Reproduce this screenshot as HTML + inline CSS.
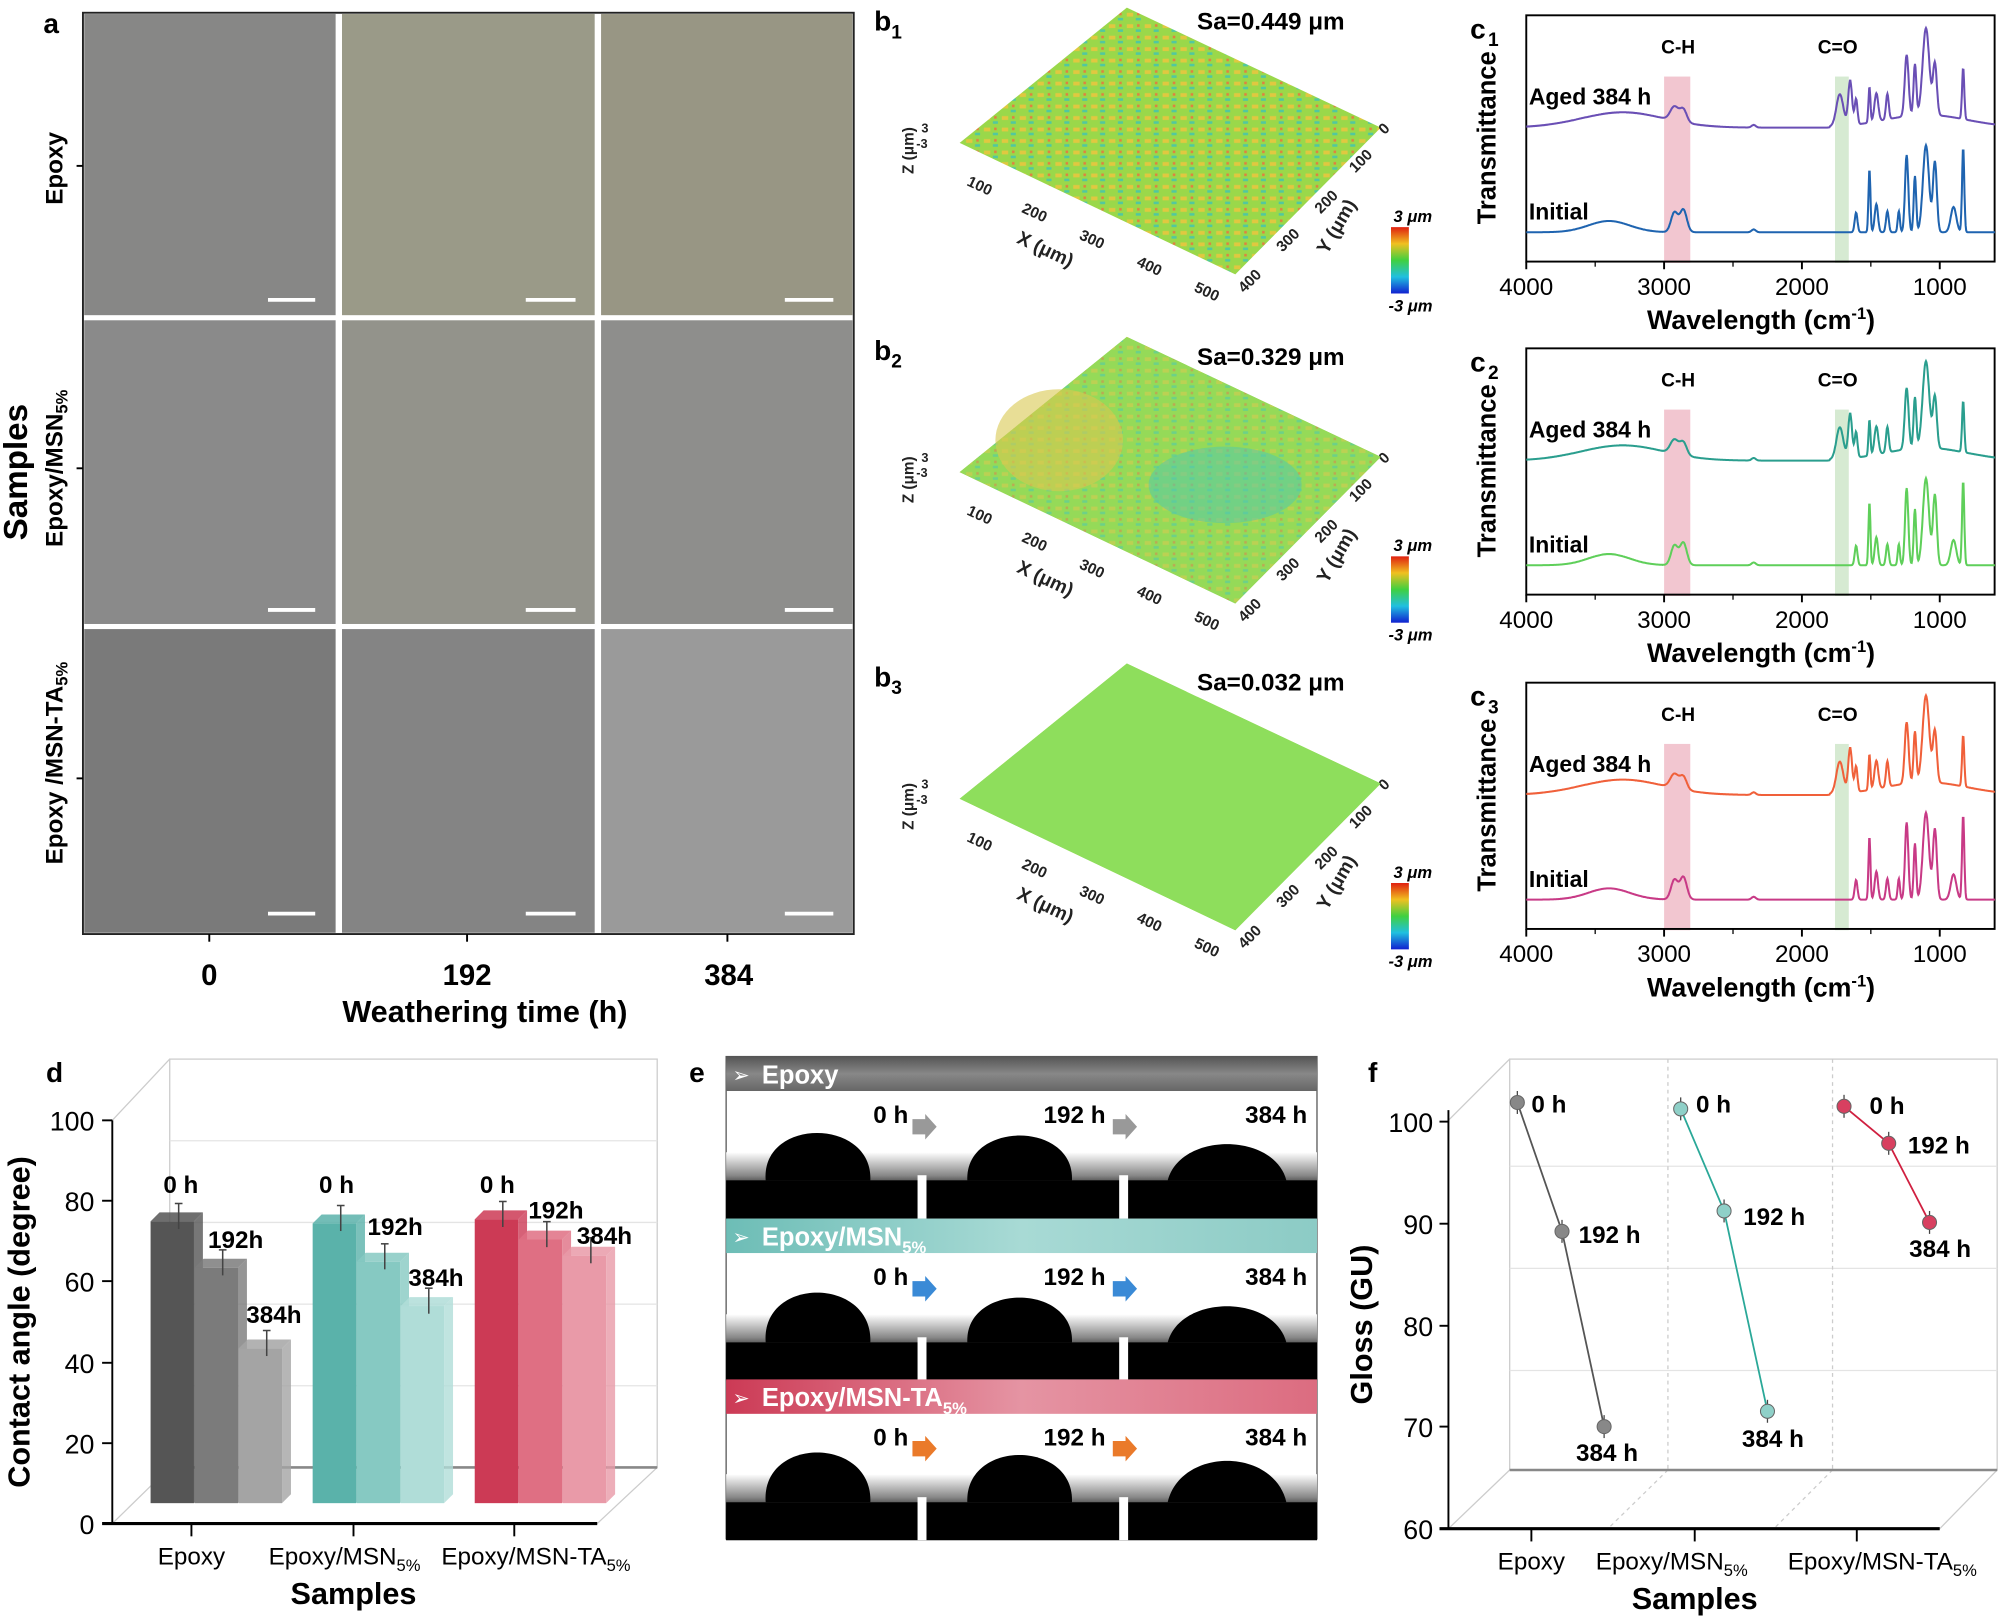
<!DOCTYPE html>
<html><head><meta charset="utf-8">
<style>
html,body{margin:0;padding:0;background:#fff;}
svg{display:block;}
text{font-family:"Liberation Sans",Arial,sans-serif;}
.b{font-weight:bold;}
</style></head>
<body>
<svg id="s" width="2001" height="1618" viewBox="0 0 1568 1268" preserveAspectRatio="none" xmlns="http://www.w3.org/2000/svg">
<defs>
<linearGradient id="gE" x1="0" y1="0" x2="0" y2="1"><stop offset="0" stop-color="#555"/><stop offset=".5" stop-color="#888"/><stop offset="1" stop-color="#666"/></linearGradient>
<linearGradient id="gM" x1="0" y1="0" x2="1" y2="0"><stop offset="0" stop-color="#6dbdb6"/><stop offset=".5" stop-color="#a8dad5"/><stop offset="1" stop-color="#8ccbc5"/></linearGradient>
<linearGradient id="gT" x1="0" y1="0" x2="1" y2="0"><stop offset="0" stop-color="#cc3a55"/><stop offset=".5" stop-color="#e594a3"/><stop offset="1" stop-color="#dc6c80"/></linearGradient>
<linearGradient id="gB" x1="0" y1="0" x2="0" y2="1"><stop offset="0" stop-color="#fff"/><stop offset=".35" stop-color="#888"/><stop offset=".6" stop-color="#000"/><stop offset="1" stop-color="#000"/></linearGradient>
<linearGradient id="cb" x1="0" y1="0" x2="0" y2="1"><stop offset="0" stop-color="#e02010"/><stop offset=".25" stop-color="#f0c020"/><stop offset=".5" stop-color="#40d040"/><stop offset=".75" stop-color="#20c0e0"/><stop offset="1" stop-color="#1020d0"/></linearGradient>
<pattern id="tex" width="14" height="9" patternUnits="userSpaceOnUse"><rect width="14" height="9" fill="#9ad84a"/><rect x="1" y="1" width="5" height="3" fill="#e0c840"/><rect x="8" y="5" width="4" height="2" fill="#50c8a0"/><rect x="9" y="1" width="2" height="2" fill="#e08040"/></pattern>
</defs>

<!-- Panel a -->
<text x="34" y="26" class="b" font-size="22">a</text>
<rect x="65" y="10" width="604" height="722" fill="#fff"/>
<rect x="66" y="11" width="197" height="236" fill="#878786"/>
<rect x="268" y="11" width="198" height="236" fill="#9a9a88"/>
<rect x="471" y="11" width="197" height="236" fill="#989684"/>
<rect x="66" y="251" width="197" height="238" fill="#8a8a8a"/>
<rect x="268" y="251" width="198" height="238" fill="#93938b"/>
<rect x="471" y="251" width="197" height="238" fill="#8e8e8c"/>
<rect x="66" y="493" width="197" height="238" fill="#7a7a7a"/>
<rect x="268" y="493" width="198" height="238" fill="#848484"/>
<rect x="471" y="493" width="197" height="238" fill="#9a9a9a"/>
<rect x="65" y="10" width="604" height="722" fill="none" stroke="#222" stroke-width="1.5"/>
<g stroke="#fff" stroke-width="3">
<line x1="210" y1="235" x2="247" y2="235"/><line x1="412" y1="235" x2="451" y2="235"/><line x1="615" y1="235" x2="653" y2="235"/>
<line x1="210" y1="478" x2="247" y2="478"/><line x1="412" y1="478" x2="451" y2="478"/><line x1="615" y1="478" x2="653" y2="478"/>
<line x1="210" y1="716" x2="247" y2="716"/><line x1="412" y1="716" x2="451" y2="716"/><line x1="615" y1="716" x2="653" y2="716"/>
</g>
<g stroke="#000" stroke-width="1.5"><line x1="60" y1="130" x2="65" y2="130"/><line x1="60" y1="367" x2="65" y2="367"/><line x1="60" y1="610" x2="65" y2="610"/>
<line x1="164" y1="732" x2="164" y2="738"/><line x1="366" y1="732" x2="366" y2="738"/><line x1="570" y1="732" x2="570" y2="738"/></g>
<text transform="translate(49,132) rotate(-90)" text-anchor="middle" class="b" font-size="19">Epoxy</text>
<text transform="translate(49,367) rotate(-90)" text-anchor="middle" class="b" font-size="19">Epoxy/MSN<tspan font-size="13" dy="4">5%</tspan></text>
<text transform="translate(49,598) rotate(-90)" text-anchor="middle" class="b" font-size="19">Epoxy /MSN-TA<tspan font-size="13" dy="4">5%</tspan></text>
<text transform="translate(21,370) rotate(-90)" text-anchor="middle" class="b" font-size="26">Samples</text>
<text x="164" y="772" text-anchor="middle" class="b" font-size="23">0</text>
<text x="366" y="772" text-anchor="middle" class="b" font-size="23">192</text>
<text x="571" y="772" text-anchor="middle" class="b" font-size="23">384</text>
<text x="380" y="801" text-anchor="middle" class="b" font-size="24">Weathering time (h)</text>

<!-- Panel b -->
<g id="b1">
<text x="685" y="24" class="b" font-size="22">b<tspan font-size="15" dy="6">1</tspan></text>
<text x="938" y="23" class="b" font-size="19">Sa=0.449 μm</text>
<polygon points="883,6 1082,100 968,215 752,112" fill="url(#tex)"/>
<g font-size="12" class="b" fill="#222">
<text transform="translate(716,118) rotate(-90)" text-anchor="middle">Z (μm)</text>
<text x="722" y="104" font-size="10">3</text><text x="718" y="116" font-size="10">-3</text>
<text x="757" y="145" transform="rotate(25 757 145)">100</text>
<text x="800" y="166" transform="rotate(25 800 166)">200</text>
<text x="845" y="187" transform="rotate(25 845 187)">300</text>
<text x="890" y="208" transform="rotate(25 890 208)">400</text>
<text x="935" y="228" transform="rotate(25 935 228)">500</text>
<text x="796" y="190" font-size="15" transform="rotate(25 796 190)">X (μm)</text>
<text x="1085" y="106" transform="rotate(-45 1085 106)">0</text>
<text x="1062" y="136" transform="rotate(-45 1062 136)">100</text>
<text x="1035" y="168" transform="rotate(-45 1035 168)">200</text>
<text x="1005" y="198" transform="rotate(-45 1005 198)">300</text>
<text x="975" y="230" transform="rotate(-45 975 230)">400</text>
<text x="1040" y="200" font-size="15" transform="rotate(-60 1040 200)">Y (μm)</text>
</g>
<rect x="1090" y="178" width="14" height="52" fill="url(#cb)"/>
<text x="1092" y="174" class="b" font-size="13" font-style="italic">3 μm</text>
<text x="1088" y="244" class="b" font-size="13" font-style="italic">-3 μm</text>
</g>
<use href="#b1" transform="translate(0,258)"/>
<use href="#b1" transform="translate(0,514)"/>
<rect x="930" y="262" width="150" height="28" fill="#fff"/>
<rect x="684" y="262" width="40" height="32" fill="#fff"/>
<text x="685" y="282" class="b" font-size="22">b<tspan font-size="15" dy="6">2</tspan></text>
<text x="938" y="286" class="b" font-size="19">Sa=0.329 μm</text>
<polygon points="883,264 1082,358 968,473 752,370" fill="#8edc6a"/>
<polygon points="883,264 1082,358 968,473 752,370" fill="url(#tex)" opacity="0.55"/>
<ellipse cx="830" cy="345" rx="50" ry="40" fill="#d8c850" opacity=".6"/>
<ellipse cx="960" cy="380" rx="60" ry="30" fill="#50c8b0" opacity=".5"/>
<rect x="930" y="518" width="150" height="28" fill="#fff"/>
<rect x="684" y="518" width="40" height="32" fill="#fff"/>
<text x="685" y="538" class="b" font-size="22">b<tspan font-size="15" dy="6">3</tspan></text>
<text x="938" y="541" class="b" font-size="19">Sa=0.032 μm</text>
<polygon points="883,520 1082,614 968,729 752,626" fill="#8ede5c"/>

<!-- Panel c (drawn by script) -->
<g id="cpanels"></g>

<!-- Panel d -->
<text x="36" y="848" class="b" font-size="22">d</text>
<rect x="133" y="830" width="382" height="320" fill="#fff" stroke="#ccc"/>
<g stroke="#e4e4e4"><line x1="133" y1="1086" x2="515" y2="1086"/><line x1="133" y1="1022" x2="515" y2="1022"/><line x1="133" y1="958" x2="515" y2="958"/><line x1="133" y1="894" x2="515" y2="894"/></g>
<line x1="88" y1="878" x2="133" y2="830" stroke="#ccc"/>
<line x1="468" y1="1194" x2="515" y2="1150" stroke="#ccc"/>
<line x1="88" y1="1194" x2="133" y2="1150" stroke="#ccc"/>
<line x1="133" y1="1150" x2="515" y2="1150" stroke="#888" stroke-width="2"/>
<line x1="88" y1="878" x2="88" y2="1194" stroke="#000" stroke-width="1.5"/>
<line x1="80" y1="1194" x2="468" y2="1194" stroke="#000" stroke-width="2.5"/>
<g stroke="#000" stroke-width="1.5">
<line x1="80" y1="878" x2="88" y2="878"/><line x1="80" y1="941" x2="88" y2="941"/><line x1="80" y1="1004" x2="88" y2="1004"/><line x1="80" y1="1068" x2="88" y2="1068"/><line x1="80" y1="1131" x2="88" y2="1131"/>
<line x1="150" y1="1194" x2="150" y2="1204"/><line x1="277" y1="1194" x2="277" y2="1204"/><line x1="403" y1="1194" x2="403" y2="1204"/>
</g>
<g font-size="21" text-anchor="end"><text x="74" y="886">100</text><text x="74" y="949">80</text><text x="74" y="1012">60</text><text x="74" y="1076">40</text><text x="74" y="1139">20</text><text x="74" y="1202">0</text></g>
<text transform="translate(23,1036) rotate(-90)" text-anchor="middle" class="b" font-size="24">Contact angle (degree)</text>
<g id="bars"></g>
<g font-size="19" text-anchor="middle"><text x="150" y="1226">Epoxy</text><text x="270" y="1226">Epoxy/MSN<tspan font-size="13" dy="5">5%</tspan></text><text x="420" y="1226">Epoxy/MSN-TA<tspan font-size="13" dy="5">5%</tspan></text></g>
<text x="277" y="1257" text-anchor="middle" class="b" font-size="24">Samples</text>

<!-- Panel e -->
<text x="540" y="848" class="b" font-size="22">e</text>
<g id="epanel"></g>

<!-- Panel f -->
<text x="1072" y="848" class="b" font-size="22">f</text>
<rect x="1183" y="830" width="382" height="322" fill="#fff" stroke="#ccc"/>
<g stroke="#e4e4e4"><line x1="1183" y1="914" x2="1565" y2="914"/><line x1="1183" y1="994" x2="1565" y2="994"/><line x1="1183" y1="1074" x2="1565" y2="1074"/></g>
<g stroke="#ccc" stroke-dasharray="3,3"><line x1="1307" y1="830" x2="1307" y2="1152"/><line x1="1436" y1="830" x2="1436" y2="1152"/><line x1="1307" y1="1152" x2="1260" y2="1198"/><line x1="1436" y1="1152" x2="1390" y2="1198"/></g>
<line x1="1135" y1="878" x2="1183" y2="830" stroke="#ccc"/>
<line x1="1135" y1="1198" x2="1183" y2="1152" stroke="#ccc"/>
<line x1="1520" y1="1198" x2="1565" y2="1152" stroke="#ccc"/>
<line x1="1183" y1="1152" x2="1565" y2="1152" stroke="#888" stroke-width="2"/>
<line x1="1135" y1="870" x2="1135" y2="1198" stroke="#000" stroke-width="1.5"/>
<line x1="1128" y1="1198" x2="1520" y2="1198" stroke="#000" stroke-width="2.5"/>
<g stroke="#000" stroke-width="1.5">
<line x1="1128" y1="879" x2="1135" y2="879"/><line x1="1128" y1="959" x2="1135" y2="959"/><line x1="1128" y1="1039" x2="1135" y2="1039"/><line x1="1128" y1="1118" x2="1135" y2="1118"/>
<line x1="1200" y1="1198" x2="1200" y2="1208"/><line x1="1328" y1="1198" x2="1328" y2="1208"/><line x1="1455" y1="1198" x2="1455" y2="1208"/>
</g>
<g font-size="21" text-anchor="end"><text x="1123" y="887">100</text><text x="1123" y="967">90</text><text x="1123" y="1047">80</text><text x="1123" y="1126">70</text><text x="1123" y="1206">60</text></g>
<text transform="translate(1075,1038) rotate(-90)" text-anchor="middle" class="b" font-size="24">Gloss (GU)</text>
<g id="fpts"></g>
<g font-size="19" text-anchor="middle"><text x="1200" y="1230">Epoxy</text><text x="1310" y="1230">Epoxy/MSN<tspan font-size="13" dy="5">5%</tspan></text><text x="1475" y="1230">Epoxy/MSN-TA<tspan font-size="13" dy="5">5%</tspan></text></g>
<text x="1328" y="1261" text-anchor="middle" class="b" font-size="24">Samples</text>
</svg>
<script>
var NS="http://www.w3.org/2000/svg";
function el(p,t,a,txt){var e=document.createElementNS(NS,t);for(var k in a)e.setAttribute(k,a[k]);if(txt!==undefined)e.textContent=txt;p.appendChild(e);return e;}
// Panel c
var cp=document.getElementById('cpanels');
var peaksI=[[3400,8,150],[2925,14,25],[2860,16,25],[2350,2,15],[1607,14,10],[1510,45,7],[1460,20,12],[1380,15,10],[1297,15,8],[1240,55,12],[1180,40,9],[1100,62,22],[1035,50,14],[900,18,20],[830,60,8]];
var peaksA=[[3300,12,300],[2925,11,30],[2860,10,25],[2350,2,15],[1725,25,25],[1650,35,14],[1607,20,10],[1510,28,7],[1460,22,14],[1380,20,10],[1240,48,14],[1180,40,10],[1100,68,24],[1035,40,14],[830,40,8]];
var cfg=[{y0:0,t:'1',ca:'#6a4fb5',ci:'#1f64b0'},{y0:261,t:'2',ca:'#2a9e8e',ci:'#5fcf5a'},{y0:523,t:'3',ca:'#f0603a',ci:'#c83a86'}];
function X(w){return 1196+(4000-w)*0.108;}
cfg.forEach(function(c){
 var g=el(cp,'g',{transform:'translate(0,'+c.y0+')'});
 el(g,'text',{x:1152,y:30,'class':'b','font-size':22},'c');el(g,'text',{x:1166,y:36,'class':'b','font-size':15},c.t);
 el(g,'rect',{x:X(3000),y:60,width:X(2810)-X(3000),height:146,fill:'#f2c6d0'});
 el(g,'rect',{x:X(1760),y:60,width:X(1660)-X(1760),height:146,fill:'#d6ead2'});
 el(g,'rect',{x:1196,y:12,width:367,height:193,fill:'none',stroke:'#000','stroke-width':1.5});
 [4000,3000,2000,1000].forEach(function(w){el(g,'line',{x1:X(w),y1:205,x2:X(w),y2:211,stroke:'#000','stroke-width':1.5});el(g,'text',{x:X(w),y:231,'text-anchor':'middle','font-size':19},w);});
 [3500,2500,1500].forEach(function(w){el(g,'line',{x1:X(w),y1:205,x2:X(w),y2:209,stroke:'#000'});});
 var t=el(g,'text',{x:1380,y:258,'text-anchor':'middle','class':'b','font-size':21},'Wavelength (cm');el(t,'tspan',{dy:-8,'font-size':13},'-1');el(t,'tspan',{dy:8},')');
 el(g,'text',{transform:'translate(1172,108) rotate(-90)','text-anchor':'middle','class':'b','font-size':20},'Transmittance');
 el(g,'text',{x:1315,y:42,'text-anchor':'middle','class':'b','font-size':15},'C-H');
 el(g,'text',{x:1440,y:42,'text-anchor':'middle','class':'b','font-size':15},'C=O');
 el(g,'text',{x:1198,y:82,'class':'b','font-size':18},'Aged 384 h');
 el(g,'text',{x:1198,y:172,'class':'b','font-size':18},'Initial');
 function path(pk,base,col,sc){var d='';for(var w=4000;w>=600;w-=4){var v=0;pk.forEach(function(p){v+=p[1]*Math.exp(-Math.pow((w-p[0])/p[2],2)/2);});if(w<1800&&pk===peaksA)v+=10*Math.exp(-Math.pow((w-1100)/300,2)/2);var yy=base-v*sc;d+=(d?'L':'M')+X(w).toFixed(1)+','+yy.toFixed(1);}el(g,'path',{d:d,fill:'none',stroke:col,'stroke-width':1.6});}
 path(peaksA,100,c.ca,1);path(peaksI,182,c.ci,1.1);
});
// Panel d bars
var bg=document.getElementById('bars');
var groups=[{x:118,cols:['#555','#7b7b7b','#a4a4a4'],v:[74,62.5,42.5]},{x:245,cols:['#5ab2aa','#86c9c2','#b0ddd8'],v:[73.5,64,53]},{x:372,cols:['#cc3a55','#df6f83','#e99aa8'],v:[74.5,69.5,65.5]}];
function Yd(v){return 1191-v*3.16;}
groups.forEach(function(g,gi){
 g.v.forEach(function(v,i){var x=g.x+i*34.5,top=Yd(v);
  el(bg,'polygon',{points:(x+34)+','+top+' '+(x+41)+','+(top-7)+' '+(x+41)+','+(1171)+' '+(x+34)+','+1178,fill:g.cols[i],opacity:.8});
  el(bg,'polygon',{points:x+','+top+' '+(x+7)+','+(top-7)+' '+(x+41)+','+(top-7)+' '+(x+34)+','+top,fill:g.cols[i],opacity:.85});
  el(bg,'rect',{x:x,y:top,width:34,height:1178-top,fill:g.cols[i]});
  el(bg,'line',{x1:x+22,y1:top-14,x2:x+22,y2:top+6,stroke:'#444','stroke-width':1.2});
  el(bg,'line',{x1:x+19,y1:top-14,x2:x+25,y2:top-14,stroke:'#444','stroke-width':1.2});
 });
});
var dl=[[128,935,'0 h'],[163,978,'192h'],[193,1037,'384h'],[250,935,'0 h'],[288,968,'192h'],[320,1008,'384h'],[376,935,'0 h'],[414,955,'192h'],[452,975,'384h']];
dl.forEach(function(d){el(bg,'text',{x:d[0],y:d[1],'class':'b','font-size':19},d[2]);});
// Panel e
var ep=document.getElementById('epanel');
var rows=[{y:828,t:'Epoxy',g:'url(#gE)',ac:'#999',h:[38,36,28]},{y:955,t:'Epoxy/MSN',g:'url(#gM)',ac:'#3a8ad6',s:'5%',h:[40,36,28]},{y:1081,t:'Epoxy/MSN-TA',g:'url(#gT)',ac:'#ea7a2a',s:'5%',h:[40,38,32]}];
el(ep,'rect',{x:569,y:828,width:463,height:378,fill:'#fff',stroke:'#555'});
rows.forEach(function(r,ri){
 el(ep,'rect',{x:569,y:r.y,width:463,height:27,fill:r.g});
 el(ep,'text',{x:574,y:r.y+20,fill:'#fff','font-size':16},'➢');
 var t=el(ep,'text',{x:597,y:r.y+21,'class':'b',fill:'#fff','font-size':20},r.t);
 if(r.s)el(t,'tspan',{dy:6,'font-size':13},r.s);
 var y1=r.y+27,h=(ri==2?99:100);
 var by=y1+h*0.7;
 el(ep,'rect',{x:569,y:by-22,width:463,height:y1+h-by+22,fill:'url(#gB)'});
 el(ep,'rect',{x:569,y:by,width:463,height:y1+h-by,fill:'#000'});
 el(ep,'path',{d:'M600,'+by+' C596,'+(by-r.h[0]*1.3)+' 684,'+(by-r.h[0]*1.3)+' 682,'+by+'Z',fill:'#000'});
 el(ep,'path',{d:'M758,'+by+' C756,'+(by-r.h[1]*1.3)+' 842,'+(by-r.h[1]*1.3)+' 840,'+by+'Z',fill:'#000'});
 el(ep,'path',{d:'M915,'+by+' C925,'+(by-r.h[2]*1.35)+' 998,'+(by-r.h[2]*1.35)+' 1008,'+by+'Z',fill:'#000'});
 el(ep,'rect',{x:719,y:by-4,width:7,height:y1+h-by+4,fill:'#fff'});
 el(ep,'rect',{x:877,y:by-4,width:7,height:y1+h-by+4,fill:'#fff'});
 el(ep,'text',{x:698,y:y1+25,'text-anchor':'middle','class':'b','font-size':19},'0 h');
 el(ep,'text',{x:842,y:y1+25,'text-anchor':'middle','class':'b','font-size':19},'192 h');
 el(ep,'text',{x:1000,y:y1+25,'text-anchor':'middle','class':'b','font-size':19},'384 h');
 [715,872].forEach(function(ax){var ay=by-42;el(ep,'polygon',{points:ax+','+(ay-6)+' '+(ax+10)+','+(ay-6)+' '+(ax+10)+','+(ay-10)+' '+(ax+19)+','+ay+' '+(ax+10)+','+(ay+10)+' '+(ax+10)+','+(ay+6)+' '+ax+','+(ay+6),fill:r.ac});});
});
// Panel f
var fp=document.getElementById('fpts');
var ser=[{c:'#888',l:'#555',p:[[1189,864],[1224,965],[1257,1118]]},{c:'#8fd0c8',l:'#2aa898',p:[[1317,869],[1351,949],[1385,1106]]},{c:'#d84060',l:'#d02040',p:[[1445,867],[1480,896],[1512,958]]}];
ser.forEach(function(s){
 el(fp,'polyline',{points:s.p.map(function(q){return q.join(',');}).join(' '),fill:'none',stroke:s.l,'stroke-width':1.4});
 s.p.forEach(function(q){el(fp,'line',{x1:q[0],y1:q[1]-9,x2:q[0],y2:q[1]+9,stroke:'#444'});el(fp,'circle',{cx:q[0],cy:q[1],r:5.5,fill:s.c,stroke:'#666','stroke-width':.8});});
});
var fl=[[1200,872,'0 h'],[1237,974,'192 h'],[1235,1145,'384 h'],[1329,872,'0 h'],[1366,960,'192 h'],[1365,1134,'384 h'],[1465,873,'0 h'],[1495,904,'192 h'],[1496,985,'384 h']];
fl.forEach(function(d){el(fp,'text',{x:d[0],y:d[1],'class':'b','font-size':19},d[2]);});
</script>
</body></html>
